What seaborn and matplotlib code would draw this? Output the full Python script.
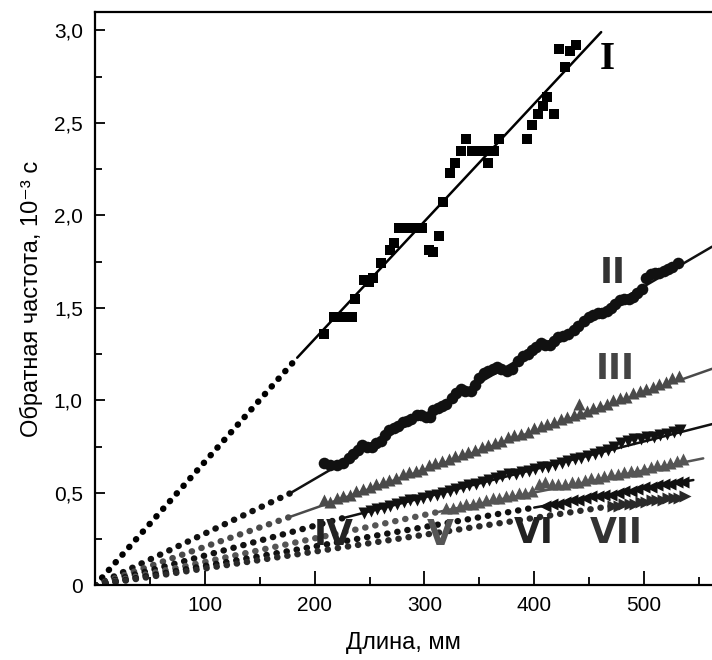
import matplotlib
matplotlib.use('Agg')
import matplotlib.pyplot as plt
import seaborn as sns

# Series I (squares)
I_x = [208, 218, 222, 226, 230, 234, 237, 245, 249, 253, 260, 269, 272, 277, 281, 285, 289, 293, 298,
       304, 308, 313, 317, 323, 328, 333, 338, 343, 347, 351, 356, 358, 363, 368, 393, 398, 403, 408,
       412, 418, 423, 428, 433, 438]
I_y = [1.36, 1.45, 1.45, 1.45, 1.45, 1.45, 1.55, 1.65, 1.64, 1.66, 1.74, 1.81, 1.85, 1.93, 1.93, 1.93, 1.93, 1.93, 1.93,
       1.81, 1.80, 1.89, 2.07, 2.23, 2.28, 2.35, 2.41, 2.35, 2.35, 2.35, 2.35, 2.28, 2.35, 2.41, 2.41, 2.49, 2.55, 2.59,
       2.64, 2.55, 2.90, 2.80, 2.89, 2.92]

# Series II (circles)
II_x = [208, 214, 220, 226, 231, 235, 239, 243, 248, 252, 256, 260, 264, 268, 272, 276, 280, 284, 288, 293,
        297, 301, 305, 308, 312, 316, 320, 325, 329, 333, 337, 342, 346, 350, 354, 358, 362, 366, 370, 375,
        380, 385, 390, 394, 398, 402, 406, 410, 414, 418, 422, 426, 431, 436, 440, 445, 450, 454, 458, 462,
        466, 470, 474, 478, 482, 486, 490, 494, 498, 502, 506, 510, 514, 518, 522, 526, 531]
II_y = [0.66, 0.65, 0.65, 0.66, 0.69, 0.71, 0.73, 0.76, 0.75, 0.75, 0.77, 0.78, 0.81, 0.84, 0.85, 0.86, 0.88, 0.89, 0.90, 0.92,
        0.92, 0.91, 0.91, 0.95, 0.96, 0.97, 0.98, 1.01, 1.04, 1.06, 1.05, 1.05, 1.08, 1.12, 1.15, 1.16, 1.17, 1.18, 1.17, 1.16,
        1.17, 1.21, 1.24, 1.25, 1.27, 1.29, 1.31, 1.30, 1.30, 1.32, 1.34, 1.35, 1.36, 1.38, 1.40, 1.43, 1.45, 1.46, 1.47, 1.47,
        1.48, 1.50, 1.52, 1.54, 1.55, 1.55, 1.56, 1.58, 1.60, 1.66, 1.68, 1.69, 1.69, 1.70, 1.71, 1.72, 1.74]

# Series III (up triangles, grey)
III_x = [208, 214, 220, 226, 232, 238, 244, 250, 256, 262, 268, 274, 280, 286, 292, 298, 304, 310, 316, 322,
         328, 334, 340, 346, 352, 358, 364, 370, 376, 382, 388, 394, 400, 406, 412, 418, 424, 430, 436, 441,
         442, 448, 454, 460, 466, 472, 478, 484, 490, 496, 502, 508, 514, 520, 526, 532]
III_y = [0.46, 0.45, 0.47, 0.48, 0.49, 0.51, 0.52, 0.53, 0.55, 0.56, 0.57, 0.58, 0.60, 0.61, 0.62, 0.63, 0.65, 0.66, 0.67, 0.68,
         0.70, 0.71, 0.72, 0.73, 0.75, 0.76, 0.77, 0.78, 0.80, 0.81, 0.82, 0.83, 0.85, 0.86, 0.87, 0.88, 0.90, 0.91, 0.92, 0.98,
         0.93, 0.94, 0.96, 0.97, 0.98, 1.00, 1.01, 1.02, 1.04, 1.05, 1.06, 1.07, 1.09, 1.10, 1.12, 1.13]

# Series IV (down triangles)
IV_x = [245, 251, 257, 263, 269, 275, 281, 287, 293, 299, 305, 311, 317, 323, 329, 335, 341, 347, 353, 359,
        365, 371, 377, 383, 389, 395, 401, 407, 413, 419, 425, 431, 437, 443, 449, 455, 461, 467, 473, 479,
        485, 491, 497, 503, 509, 515, 521, 527, 533]
IV_y = [0.39, 0.40, 0.41, 0.42, 0.43, 0.44, 0.45, 0.46, 0.46, 0.47, 0.48, 0.49, 0.50, 0.51, 0.52, 0.53, 0.54, 0.55, 0.56, 0.57,
        0.58, 0.59, 0.60, 0.60, 0.61, 0.62, 0.63, 0.64, 0.64, 0.65, 0.66, 0.67, 0.68, 0.69, 0.70, 0.71, 0.72, 0.73, 0.75, 0.77,
        0.78, 0.79, 0.79, 0.80, 0.80, 0.81, 0.82, 0.83, 0.84]

# Series V (up triangles, grey)
V_x = [320, 326, 332, 338, 344, 350, 356, 362, 368, 374, 380, 386, 392, 398, 404, 410, 416, 422, 428, 434,
       440, 446, 452, 458, 464, 470, 476, 482, 488, 494, 500, 506, 512, 518, 524, 530, 536]
V_y = [0.42, 0.42, 0.43, 0.44, 0.44, 0.45, 0.46, 0.47, 0.47, 0.48, 0.49, 0.50, 0.50, 0.51, 0.55, 0.56, 0.55, 0.55, 0.55, 0.56,
       0.56, 0.57, 0.58, 0.58, 0.59, 0.60, 0.60, 0.61, 0.62, 0.62, 0.63, 0.64, 0.65, 0.65, 0.66, 0.67, 0.68]

# Series VI (left triangles)
VI_x = [410, 416, 422, 428, 434, 440, 446, 452, 458, 464, 470, 476, 482, 488, 494, 500, 506, 512, 518, 524, 530, 536]
VI_y = [0.43, 0.44, 0.44, 0.45, 0.46, 0.46, 0.47, 0.48, 0.48, 0.49, 0.49, 0.50, 0.51, 0.51, 0.52, 0.53, 0.53, 0.54, 0.55,
        0.55, 0.56, 0.56]

# Series VII (right triangles)
VII_x = [472, 477, 482, 487, 492, 497, 502, 507, 512, 517, 522, 527, 532, 537]
VII_y = [0.43, 0.43, 0.44, 0.44, 0.44, 0.45, 0.45, 0.46, 0.46, 0.46, 0.47, 0.47, 0.47, 0.48]

# fitted lines: dotted part from origin to start, solid from start to end
names = ['I', 'II', 'III', 'IV', 'V', 'VI', 'VII']
start_x = [184, 177.5, 177.5, 225, 313, 400, 470]
start_y = [1.23, 0.497, 0.37, 0.362, 0.397, 0.42, 0.428]
end_x = [461, 562, 562, 562, 554, 545, None]
end_y = [2.99, 1.83, 1.17, 0.871, 0.686, 0.569, None]

# label positions
label_x = [467, 472, 474, 217, 314, 400, 475]
label_y = [2.84, 1.69, 1.17, 0.27, 0.27, 0.28, 0.28]

series = [(I_x, I_y, 's', '#000000', 48),
          (II_x, II_y, 'o', '#111111', 70),
          (III_x, III_y, '^', '#4a4a4a', 75),
          (IV_x, IV_y, 'v', '#111111', 75),
          (V_x, V_y, '^', '#555555', 75),
          (VI_x, VI_y, '<', '#111111', 75),
          (VII_x, VII_y, '>', '#2a2a2a', 75)]
label_colors = ['#000000', '#333333', '#444444', '#222222', '#555555', '#222222', '#333333']

sns.set_theme(style="ticks")
plt.rcParams['font.family'] = ['Liberation Sans', 'DejaVu Sans']
plt.rcParams['text.color'] = 'black'
plt.rcParams['axes.labelcolor'] = 'black'
plt.rcParams['xtick.color'] = 'black'
plt.rcParams['ytick.color'] = 'black'

fig = plt.figure(figsize=(7.12, 6.6), dpi=100)
ax = fig.add_axes([0.1338, 0.1132, 0.8662, 0.869])

for i, (xs, ys, mk, col, sz) in enumerate(series):
    sns.lineplot(x=[0, start_x[i]], y=[0, start_y[i]], ax=ax, color=col, lw=4.6,
                 linestyle=(0, (0.05, 1.55)), dash_capstyle='round', estimator=None, sort=False)
    if end_x[i] is not None:
        sns.lineplot(x=[start_x[i], end_x[i]], y=[start_y[i], end_y[i]], ax=ax, color=col, lw=1.8,
                     estimator=None, sort=False)
    sns.scatterplot(x=xs, y=ys, ax=ax, marker=mk, color=col, s=sz, linewidth=0)

for i, name in enumerate(names):
    if name == 'I':
        ax.text(label_x[i], label_y[i], name, ha='center', va='center', fontsize=28,
                fontweight='bold', family='Liberation Serif', color=label_colors[i])
    else:
        ax.text(label_x[i], label_y[i], name, ha='center', va='center', fontsize=25,
                fontweight='heavy', family='DejaVu Sans', color=label_colors[i])

ax.set_xlim(0, 562)
ax.set_ylim(0, 3.1)
ax.set_xticks([100, 200, 300, 400, 500])
ax.set_xticks([50, 150, 250, 350, 450, 550], minor=True)
ax.set_yticks([0, 0.5, 1.0, 1.5, 2.0, 2.5, 3.0])
ax.set_yticklabels(['0', '0,5', '1,0', '1,5', '2,0', '2,5', '3,0'])
ax.set_yticks([0.25, 0.75, 1.25, 1.75, 2.25, 2.75], minor=True)
ax.tick_params(axis='x', which='major', direction='in', length=10, width=1.3, labelsize=15, pad=8)
ax.tick_params(axis='x', which='minor', direction='in', length=6, width=1.3)
ax.tick_params(axis='y', which='major', direction='in', length=7, width=1.3, labelsize=15, pad=9)
ax.tick_params(axis='y', which='minor', direction='in', length=5, width=1.3)
for s in ['left', 'bottom', 'top']:
    ax.spines[s].set_linewidth(1.6)
    ax.spines[s].set_color('black')
ax.spines['right'].set_visible(False)
ax.spines['top'].set_visible(True)

ax.set_xlabel('Длина, мм', fontsize=17, labelpad=12)
ax.set_ylabel('Обратная частота, 10⁻³ с', fontsize=17, labelpad=8)

fig.savefig('out.png', dpi=100)
